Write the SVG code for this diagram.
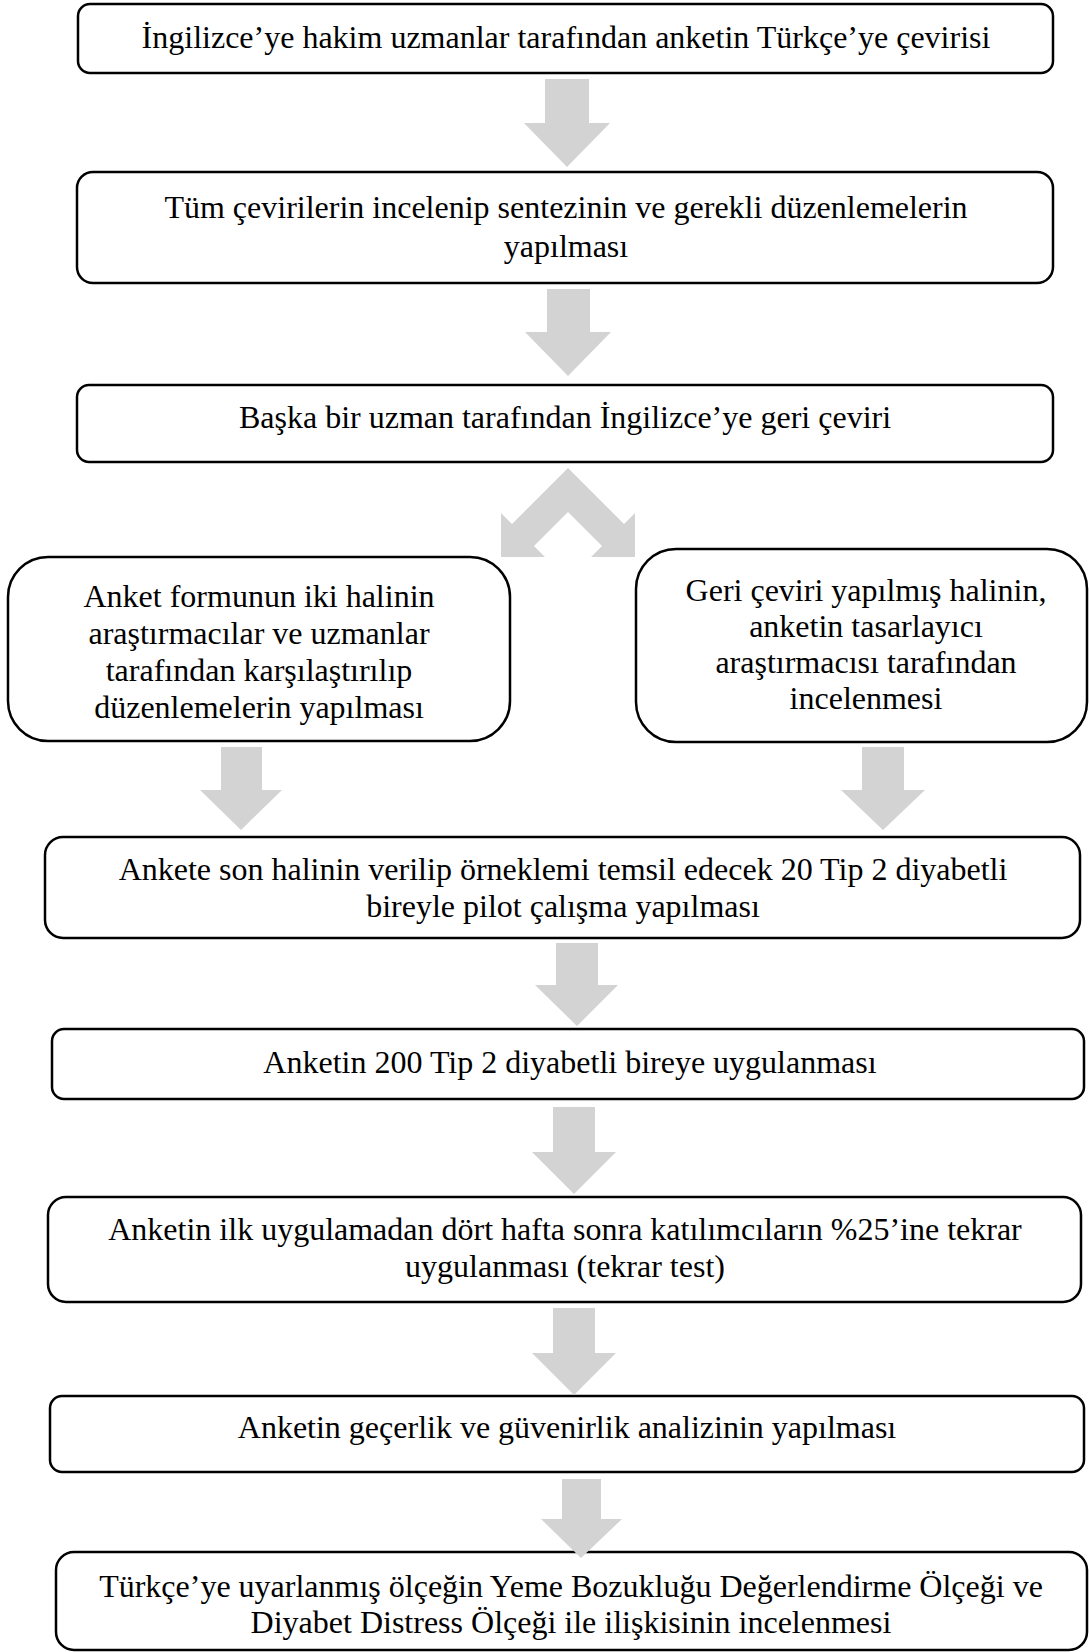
<svg xmlns="http://www.w3.org/2000/svg" width="1089" height="1652" viewBox="0 0 1089 1652">
<style>
.box{fill:#fff;stroke:#000;stroke-width:2.5}
.t{font-family:"Liberation Serif","Times New Roman",serif;font-size:32px;fill:#000;text-anchor:middle}
.arr{fill:#d3d3d3}
</style>
<rect width="1089" height="1652" fill="#fff"/>
<g id="n1"><rect class="box" x="78" y="4" width="975" height="69" rx="12"/><text class="t" x="566" y="48">İngilizce’ye hakim uzmanlar tarafından anketin Türkçe’ye çevirisi</text></g>
<g id="n2"><rect class="box" x="77" y="172" width="976" height="111" rx="16"/><text class="t" x="566" y="218">Tüm çevirilerin incelenip sentezinin ve gerekli düzenlemelerin</text><text class="t" x="566" y="257">yapılması</text></g>
<g id="n3"><rect class="box" x="77" y="385" width="976" height="77" rx="12"/><text class="t" x="565" y="428">Başka bir uzman tarafından İngilizce’ye geri çeviri</text></g>
<g id="n4"><rect class="box" x="8" y="557" width="502" height="184" rx="40"/><text class="t" x="259" y="607">Anket formunun iki halinin</text><text class="t" x="259" y="644">araştırmacılar ve uzmanlar</text><text class="t" x="259" y="681">tarafından karşılaştırılıp</text><text class="t" x="259" y="718">düzenlemelerin yapılması</text></g>
<g id="n5"><rect class="box" x="636" y="549" width="451" height="193" rx="40"/><text class="t" x="866" y="601">Geri çeviri yapılmış halinin,</text><text class="t" x="866" y="637">anketin tasarlayıcı</text><text class="t" x="866" y="673">araştırmacısı tarafından</text><text class="t" x="866" y="709">incelenmesi</text></g>
<g id="n6"><rect class="box" x="45" y="837" width="1035" height="101" rx="18"/><text class="t" x="563" y="880">Ankete son halinin verilip örneklemi temsil edecek 20 Tip 2 diyabetli</text><text class="t" x="563" y="917">bireyle pilot çalışma yapılması</text></g>
<g id="n7"><rect class="box" x="52" y="1029" width="1032" height="70" rx="12"/><text class="t" x="570" y="1073">Anketin 200 Tip 2 diyabetli bireye uygulanması</text></g>
<g id="n8"><rect class="box" x="48" y="1197" width="1033" height="105" rx="18"/><text class="t" x="565" y="1240">Anketin ilk uygulamadan dört hafta sonra katılımcıların %25’ine tekrar</text><text class="t" x="565" y="1277">uygulanması (tekrar test)</text></g>
<g id="n9"><rect class="box" x="50" y="1396" width="1034" height="76" rx="12"/><text class="t" x="567" y="1438">Anketin geçerlik ve güvenirlik analizinin yapılması</text></g>
<g id="n10"><rect class="box" x="56" y="1552" width="1031" height="98" rx="18"/><text class="t" x="571" y="1597">Türkçe’ye uyarlanmış ölçeğin Yeme Bozukluğu Değerlendirme Ölçeği ve</text><text class="t" x="571" y="1633">Diyabet Distress Ölçeği ile ilişkisinin incelenmesi</text></g>
<g id="connectors">
<polygon class="arr" points="545,79 589,79 589,123 610,123 567,167 524,123 545,123"/>
<polygon class="arr" points="547,289 590,289 590,332 611,332 568,376 525,332 547,332"/>
<polygon class="arr" points="568,468 624,524 635,513 635,557 591,557 602,546 568,512 534,546 545,557 501,557 501,513 512,524"/>
<polygon class="arr" points="221,747 262,747 262,790 282,790 241,830 200,790 221,790"/>
<polygon class="arr" points="862,747 904,747 904,790 925,790 883,830 841,790 862,790"/>
<polygon class="arr" points="556,943 598,943 598,985 618,985 577,1026 535,985 556,985"/>
<polygon class="arr" points="553,1107 595,1107 595,1152 616,1152 574,1194 532,1152 553,1152"/>
<polygon class="arr" points="553,1308 595,1308 595,1353 616,1353 574,1395 532,1353 553,1353"/>
<polygon class="arr" points="562,1479 601,1479 601,1519 622,1519 581,1558 541,1519 562,1519"/>
</g>
</svg>
